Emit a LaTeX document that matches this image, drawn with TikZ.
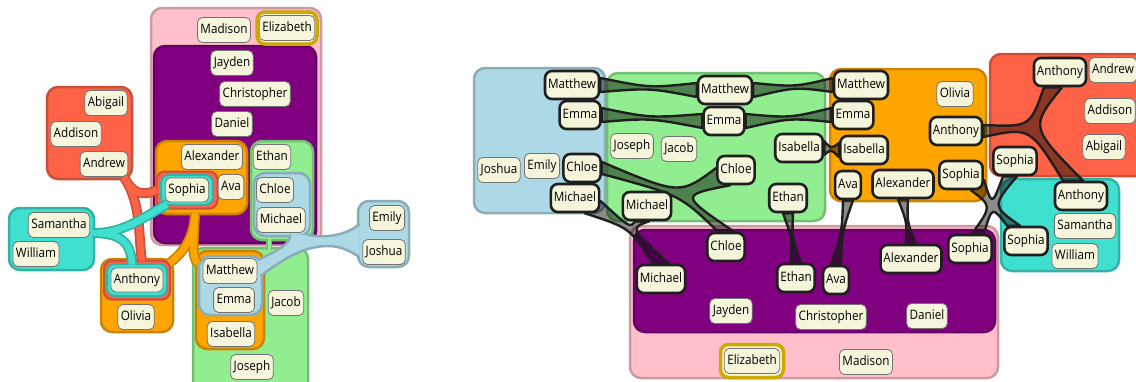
\documentclass[tikz,border=0pt]{standalone}
\usepackage{fontspec}
\setmainfont{Open Sans}[FakeStretch=0.9]
\usepackage{tikz}
\usetikzlibrary{backgrounds}
\definecolor{namebg}{HTML}{F5F5DC}
\definecolor{setblue}{HTML}{ADD8E6}
\definecolor{setgreen}{HTML}{90EE90}
\definecolor{setorange}{HTML}{FFA500}
\definecolor{setred}{HTML}{FF6347}
\definecolor{setteal}{HTML}{40E0D0}
\definecolor{setpurple}{HTML}{800080}
\definecolor{setpink}{HTML}{FFC0CB}
\definecolor{setgold}{HTML}{CDAA00}
\newcommand\namefont{\fontsize{13}{15}\selectfont}
\tikzset{
  person/.style   = {draw=black!55, line width=0.8pt, fill=namebg, rounded corners=5pt,
                     minimum height=25pt, inner xsep=3pt, inner ysep=0pt,
                     text height=10pt, text depth=3.5pt, font=\namefont},
  member/.style   = {person, draw=black!88, line width=2.6pt, minimum height=28pt,
                     rounded corners=7pt},
  setbox/.style   = {draw=#1!80!black, fill=#1, line width=2.5pt, rounded corners=11pt},
  ring/.style     = {draw=#1!80!black, fill=#1, line width=2pt, rounded corners=8pt,
                     inner sep=0pt},
  tube/.style     = {draw=#1, line width=6.5pt, preaction={draw=#1!80!black, line width=10pt}},
  stub/.style     = {draw=#1, line width=3pt, preaction={draw=#1!80!black, line width=6pt}},
  tubeedge/.style = {draw=#1!80!black, line width=2.5pt},
  band/.style     = {draw=black!88, line width=2.4pt, fill=black, fill opacity=0.45,
                     line join=round},
}
% band between two copies of a name, side by side / one above the other
\newcommand\hband[3]{%
  \filldraw[band] ([yshift=7pt]#1.east) .. controls (#3) .. ([yshift=7pt]#2.west)
    -- ([yshift=-7pt]#2.west) .. controls (#3) .. ([yshift=-7pt]#1.east) -- cycle;}
\newcommand\vband[3]{%
  \filldraw[band] ([xshift=-5pt]#1.south) .. controls (#3) .. ([xshift=-5pt]#2.north)
    -- ([xshift=5pt]#2.north) .. controls (#3) .. ([xshift=5pt]#1.south) -- cycle;}

\begin{document}
\begin{tikzpicture}[x=1pt,y=-1pt]
\clip (0,0) rectangle (1136,381);

%% ---------- nested sets, left ----------
\draw[setbox=setpink]   (151,8) rectangle (321,245);
\draw[setbox=setpurple] (154,46) rectangle (316,243);
\draw[setbox=setorange] (156,141) rectangle (247,214);
\draw[setbox=setgreen]  (251,141) rectangle (313,240);
\draw[setbox=setblue]   (254,173) rectangle (310,236);
\draw[setbox=setred]    (47,87) rectangle (132,179);
\draw[setbox=setteal]   (9,208) rectangle (94,270);
\draw[setbox=setblue]   (358,201) rectangle (409,267);
\draw[setbox=setorange] (101,259) rectangle (173,332);
\draw[setbox=setgreen]  (193,248) rectangle (308,395);
\draw[setbox=setorange] (196,251) rectangle (264,349);
\draw[setbox=setblue]   (199,256) rectangle (262,315);

% tubes joining split sets
\coordinate (bluMic1) at (290,234.5);
\coordinate (bluMic2) at (307,234.5);
\coordinate (bluMat1) at (258,260);
\coordinate (bluMat2) at (260.5,276);
\coordinate (bluEmi1) at (359.5,224);
\coordinate (bluEmi2) at (359.5,257);
\fill[setblue] (bluMic1) .. controls (291,245) and (274,252) .. (bluMat1) -- (bluMat2)
  .. controls (284,258) and (305,246) .. (328,246) .. controls (342,246) and (351,252) .. (bluEmi2)
  -- (bluEmi1) .. controls (344,237) and (322,238) .. (bluMic2) -- cycle;
\draw[tubeedge=setblue] (bluMic1) .. controls (291,245) and (274,252) .. (bluMat1)
  (bluMat2) .. controls (284,258) and (305,246) .. (328,246)
  .. controls (342,246) and (351,252) .. (bluEmi2)
  (bluEmi1) .. controls (344,237) and (322,238) .. (bluMic2);

\coordinate (grTop) at (269,238.5);
\coordinate (grBot) at (269,249.5);
\draw[stub=setgreen] (grTop) -- (grBot);

\coordinate (orMouth) at (195,212.5);
\coordinate (orLeft) at (168,264);
\coordinate (orRight) at (198,263);
\draw[tube=setorange] (orMouth) .. controls (194,240) and (182,254) .. (orLeft)
  (orMouth) .. controls (194,240) and (191,258) .. (orRight);

\node[ring=setred, minimum width=61pt, minimum height=37pt] (sophRed) at (187,190) {};
\node[ring=setred, minimum width=66pt, minimum height=39pt] (antRed) at (137,280) {};

\coordinate (redMouth) at (124,177);
\draw[tube=setred] (redMouth) .. controls (132,193) and (142,197) .. ([xshift=1.5pt]sophRed.west)
  (redMouth) .. controls (142,205) and (138,235) .. ([shift={(5pt,-1.5pt)}]antRed.north);

\node[ring=setteal, minimum width=52pt, minimum height=30pt] (sophTeal) at (187,190) {};
\node[ring=setteal, minimum width=60pt, minimum height=32pt] (antTeal) at (137,280) {};

\coordinate (tealMouth) at (92.5,233);
\draw[tube=setteal] (tealMouth) .. controls (125,234) and (148,214) .. ([shift={(7pt,1.5pt)}]sophTeal.south west)
  (tealMouth) .. controls (122,233) and (131,243) .. ([shift={(-5pt,-1.5pt)}]antTeal.north);

\node[ring=setgold, draw=setgold, fill=namebg, line width=3.5pt, minimum width=60pt,
  minimum height=32pt] (elizLring) at (287,28) {};

\node[person] (madL) at (224,30) {Madison};
\node[person] (elizL) at (287,28) {Elizabeth};
\node[person] (jayL) at (232,63) {Jayden};
\node[person] (chrL) at (255,94) {Christopher};
\node[person] (danL) at (232,124) {Daniel};
\node[person] (alxL) at (212,157) {Alexander};
\node[person] (avaL) at (231,187) {Ava};
\node[person, minimum height=24pt] (sophL) at (187,190) {Sophia};
\node[person] (ethL) at (272,157) {Ethan};
\node[person] (chlL) at (275,190) {Chloe};
\node[person] (micL) at (281,220) {Michael};
\node[person] (abiL) at (106,103) {Abigail};
\node[person] (addL) at (76,134) {Addison};
\node[person] (andL) at (104,164) {Andrew};
\node[person] (samL) at (59,225) {Samantha};
\node[person] (wilL) at (36,254) {William};
\node[person, minimum height=24pt] (antL) at (137,280) {Anthony};
\node[person] (oliL) at (136,317) {Olivia};
\node[person] (matL) at (230,271) {Matthew};
\node[person] (emmL) at (234,300) {Emma};
\node[person] (isaL) at (231,334) {Isabella};
\node[person] (jacL) at (286,303) {Jacob};
\node[person] (josL) at (252,367) {Joseph};
\node[person] (emiL) at (387,218) {Emily};
\node[person] (jshL) at (384,252) {Joshua};

%% ---------- copies per set, right ----------
\node[member] (mb) at (572,85) {Matthew};
\node[member] (eb) at (580,115) {Emma};
\node[person] (jshR) at (499,170) {Joshua};
\node[person] (emiR) at (542,166) {Emily};
\node[member] (cb) at (582,168) {Chloe};
\node[member] (mib) at (575,198) {Michael};

\node[member] (mg) at (725,90) {Matthew};
\node[member] (eg) at (724,121) {Emma};
\node[person] (josR) at (632,146) {Joseph};
\node[person] (jacR) at (679,149) {Jacob};
\node[member] (cg) at (736,170) {Chloe};
\node[member] (mig) at (647,206) {Michael};
\node[member] (ig) at (799,148) {Isabella};
\node[member] (etg) at (788,198) {Ethan};

\node[member] (mo) at (861,85) {Matthew};
\node[member] (eo) at (853,115) {Emma};
\node[member] (io) at (864,150) {Isabella};
\node[person] (oliR) at (955,94) {Olivia};
\node[member] (ano) at (956,131) {Anthony};
\node[member] (avo) at (848,185) {Ava};
\node[member] (xo) at (903,184) {Alexander};
\node[member] (so) at (961,175) {Sophia};

\node[member] (anr) at (1060,72) {Anthony};
\node[person] (andR) at (1113,70) {Andrew};
\node[person] (addR) at (1110,111) {Addison};
\node[person] (abiR) at (1104,147) {Abigail};
\node[member] (sr) at (1015,161) {Sophia};

\node[member] (ant) at (1081,196) {Anthony};
\node[person] (samR) at (1085,226) {Samantha};
\node[person] (wilR) at (1075,256) {William};
\node[member] (st) at (1026,241) {Sophia};

\node[member] (cp) at (726,247) {Chloe};
\node[member] (mip) at (661,279) {Michael};
\node[member] (etp) at (796,278) {Ethan};
\node[member] (avp) at (836,280) {Ava};
\node[member] (xp) at (911,259) {Alexander};
\node[member] (sp) at (970,249) {Sophia};
\node[person] (jayR) at (731,311) {Jayden};
\node[person] (chrR) at (831,317) {Christopher};
\node[person] (danR) at (927,316) {Daniel};

\node[ring=setgold, draw=setgold, fill=namebg, line width=3.5pt, minimum width=63pt,
  minimum height=33pt] (elizRring) at (752,361) {};
\node[person] (elizR) at (752,361) {Elizabeth};
\node[person] (madR) at (866,362) {Madison};

% set boxes and the bands between copies go under the names
\begin{scope}[on background layer]
\draw[setbox=setblue]   (474,68) rectangle (605,213);
\draw[setbox=setgreen]  (607,73) rectangle (825,221);
\draw[setbox=setorange] (830,69) rectangle (986,201);
\draw[setbox=setred]    (990,54) rectangle (1150,176);
\draw[setbox=setteal]   (1001,179) rectangle (1119,271);
\draw[setbox=setpink]   (630,226) rectangle (998,378);
\draw[setbox=setpurple] (634,230) rectangle (995,332);

\hband{mb}{mg}{650,88}
\hband{mg}{mo}{795,87}
\hband{eb}{eg}{650,118}
\hband{eg}{eo}{790,118}
\hband{ig}{io}{831,149}
\vband{etg}{etp}{792,238}
\vband{avo}{avp}{842,232}
\vband{xo}{xp}{907,222}

% Chloe: three copies
\filldraw[band] ([yshift=6pt]cb.east) .. controls (680,195) .. ([yshift=2pt]cg.west)
  -- ([xshift=-6pt]cg.south) .. controls (680,195) .. ([xshift=8pt]cp.north)
  -- ([xshift=-8pt]cp.north) .. controls (680,195) .. ([yshift=-6pt]cb.east) -- cycle;
% Michael: three copies
\filldraw[band] ([yshift=-3pt]mib.east) .. controls (630,228) .. ([xshift=-12pt]mig.south)
  -- ([xshift=2pt]mig.south) .. controls (630,228) .. ([xshift=8pt]mip.north)
  -- ([xshift=-8pt]mip.north) .. controls (630,228) .. ([xshift=10pt]mib.south) -- cycle;
% Sophia: four copies
\filldraw[band] ([yshift=-5pt]so.east) .. controls (992,206) .. ([xshift=-12pt]sr.south)
  -- ([xshift=2pt]sr.south) .. controls (992,206) .. ([xshift=-6pt]st.north)
  -- ([xshift=-19pt]st.north) .. controls (992,206) .. ([xshift=14pt]sp.north)
  -- ([xshift=2pt]sp.north) .. controls (992,206) .. ([xshift=10pt]so.south) -- cycle;
% Anthony: three copies
\filldraw[band] ([yshift=6pt]ano.east) .. controls (1030,127) .. ([xshift=-16pt]anr.south)
  -- ([xshift=2pt]anr.south) .. controls (1030,127) .. ([xshift=2pt]ant.north)
  -- ([xshift=-18pt]ant.north) .. controls (1030,127) .. ([yshift=-6pt]ano.east) -- cycle;
\end{scope}
\end{tikzpicture}
\end{document}
